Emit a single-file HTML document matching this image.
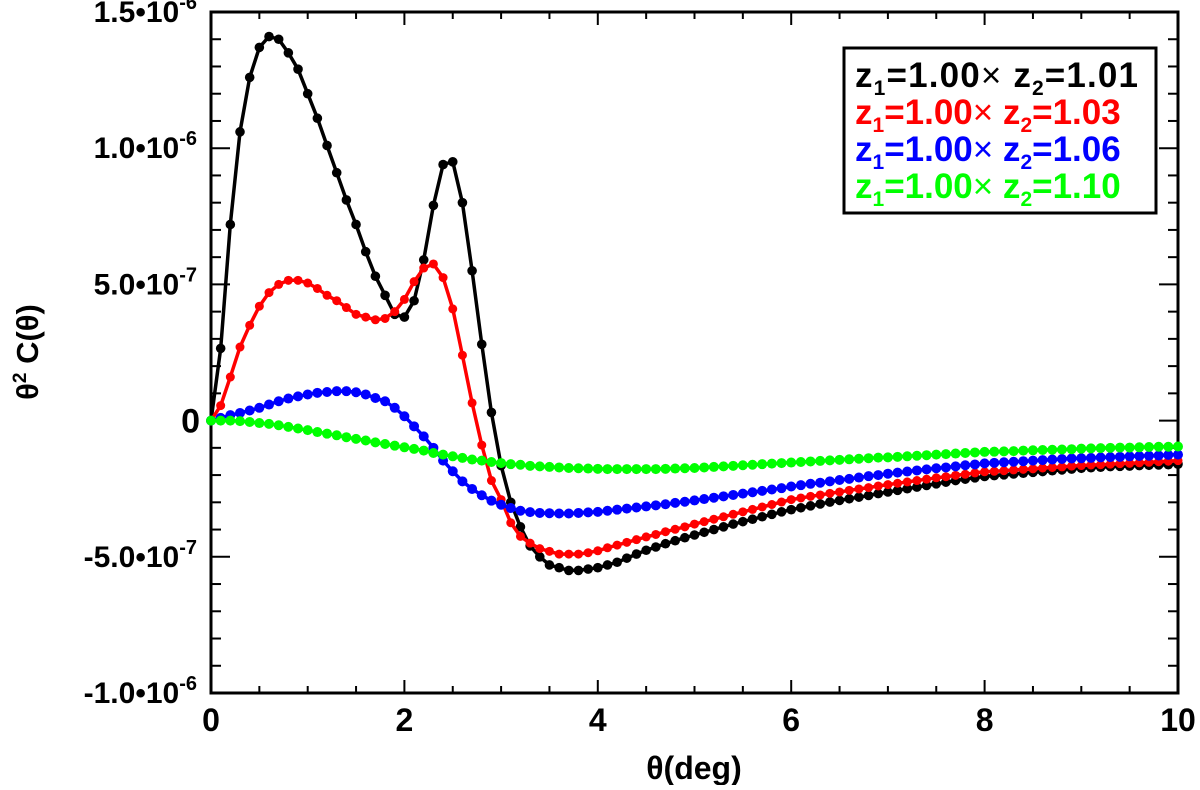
<!DOCTYPE html>
<html><head><meta charset="utf-8"><style>
body{margin:0;background:#fff;width:1200px;height:785px;overflow:hidden}
svg text{font-family:"Liberation Sans",Arial,sans-serif;font-weight:bold}
</style></head><body>
<svg id="chart" width="1200" height="785" viewBox="0 0 1200 785" xmlns="http://www.w3.org/2000/svg">
<g id="axes"></g>
<g id="series"></g>
<text x="694" y="779" font-size="32" text-anchor="middle">θ(deg)</text>
<text transform="translate(38,352) rotate(-90)" font-size="31" text-anchor="middle">θ<tspan font-size="19" dy="-12">2</tspan><tspan dy="12"> C(θ)</tspan></text>
<g>
<rect x="844" y="48" width="312" height="165" fill="#fff" stroke="#000" stroke-width="3"/>
<text x="855" y="87" font-size="35" fill="#000" textLength="283">z<tspan font-size="21" dy="8">1</tspan><tspan dy="-8">=1.00</tspan><tspan font-weight="normal">×</tspan> z<tspan font-size="21" dy="8">2</tspan><tspan dy="-8">=1.01</tspan></text>
<text x="855" y="124" font-size="35" fill="#ff0000">z<tspan font-size="21" dy="8">1</tspan><tspan dy="-8">=1.00</tspan><tspan font-weight="normal">×</tspan> z<tspan font-size="21" dy="8">2</tspan><tspan dy="-8">=1.03</tspan></text>
<text x="855" y="161" font-size="35" fill="#0000ff">z<tspan font-size="21" dy="8">1</tspan><tspan dy="-8">=1.00</tspan><tspan font-weight="normal">×</tspan> z<tspan font-size="21" dy="8">2</tspan><tspan dy="-8">=1.06</tspan></text>
<text x="855" y="198" font-size="35" fill="#00ff00">z<tspan font-size="21" dy="8">1</tspan><tspan dy="-8">=1.00</tspan><tspan font-weight="normal">×</tspan> z<tspan font-size="21" dy="8">2</tspan><tspan dy="-8">=1.10</tspan></text>
</g>
</svg>
<script>
// values in units of 1e-7, sampled every 0.1 deg from 0 to 10
const xStep = 0.1;
const blackVals = [0,2.65,7.2,10.6,12.6,13.7,14.1,14.0,13.5,12.9,12.0,11.1,10.1,9.1,8.1,7.2,6.2,5.3,4.6,3.9,3.8,4.4,5.9,7.9,9.4,9.5,8.0,5.5,2.8,0.3,-1.65,-3.0,-3.9,-4.6,-5.0,-5.3,-5.4,-5.5,-5.5,-5.45,-5.4,-5.3,-5.2,
-5.05,-4.9,-4.76,-4.64,-4.52,-4.41,-4.3,-4.2,
-4.1,-4.0,-3.9,-3.8,-3.71,-3.62,-3.53,-3.44,-3.35,-3.27,
-3.2,-3.13,-3.06,-2.99,-2.93,-2.87,-2.81,-2.75,-2.68,-2.62,
-2.56,-2.5,-2.44,-2.38,-2.32,-2.26,-2.2,-2.15,-2.1,-2.05,
-2.02,-1.99,-1.96,-1.93,-1.9,-1.87,-1.84,-1.81,-1.78,-1.75,
-1.73,-1.71,-1.69,-1.68,-1.67,-1.65,-1.64,-1.63,-1.62,-1.6];
const redVals = [0,0.55,1.6,2.7,3.5,4.2,4.7,5.0,5.15,5.15,5.05,4.85,4.6,4.4,4.15,3.9,3.8,3.7,3.75,4.0,4.45,5.1,5.6,5.75,5.25,4.1,2.4,0.65,-0.9,-2.2,-2.9,-3.75,-4.25,-4.5,-4.7,-4.8,-4.9,-4.9,-4.9,-4.85,-4.78,-4.67,-4.57,
-4.47,-4.37,-4.27,-4.18,-4.08,-3.99,-3.9,-3.8,
-3.71,-3.62,-3.53,-3.44,-3.35,-3.26,-3.17,-3.08,-2.99,-2.9,
-2.84,-2.78,-2.73,-2.67,-2.62,-2.56,-2.51,-2.46,-2.4,-2.35,
-2.3,-2.25,-2.2,-2.15,-2.1,-2.06,-2.01,-1.97,-1.92,-1.88,
-1.86,-1.84,-1.81,-1.79,-1.77,-1.74,-1.72,-1.7,-1.67,-1.65,
-1.63,-1.62,-1.6,-1.58,-1.57,-1.55,-1.53,-1.51,-1.49,-1.47];
const blueVals = [0,0.1,0.2,0.28,0.37,0.47,0.59,0.71,0.81,0.89,0.96,1.02,1.05,1.08,1.08,1.04,0.96,0.83,0.71,0.47,0.16,-0.21,-0.58,-1.0,-1.47,-1.86,-2.23,-2.51,-2.74,-2.94,-3.09,-3.21,-3.31,-3.36,-3.39,-3.4,-3.41,-3.41,-3.39,-3.37,-3.35,-3.31,-3.27,
-3.23,-3.19,-3.15,-3.11,-3.07,-3.02,-2.98,-2.93,
-2.88,-2.83,-2.78,-2.73,-2.68,-2.63,-2.58,-2.53,-2.48,-2.42,
-2.37,-2.32,-2.28,-2.23,-2.18,-2.14,-2.09,-2.04,-2.0,-1.95,
-1.91,-1.87,-1.83,-1.79,-1.75,-1.72,-1.68,-1.64,-1.61,-1.57,
-1.55,-1.53,-1.51,-1.49,-1.47,-1.45,-1.43,-1.41,-1.39,-1.38,
-1.37,-1.35,-1.34,-1.33,-1.31,-1.3,-1.29,-1.28,-1.26,-1.25];
const greenVals = [0,0,0,-0.02,-0.05,-0.09,-0.12,-0.17,-0.23,-0.29,-0.35,-0.42,-0.48,-0.54,-0.61,-0.67,-0.73,-0.8,-0.86,-0.92,-0.98,-1.04,-1.1,-1.19,-1.25,-1.31,-1.37,-1.43,-1.47,-1.52,-1.56,-1.6,-1.62,-1.66,-1.68,-1.7,-1.72,-1.74,-1.75,-1.76,-1.77,-1.78,-1.78,
-1.78,-1.78,-1.78,-1.78,-1.77,-1.76,-1.75,-1.74,
-1.72,-1.7,-1.68,-1.66,-1.64,-1.62,-1.6,-1.58,-1.56,-1.54,
-1.52,-1.5,-1.48,-1.46,-1.44,-1.42,-1.4,-1.38,-1.36,-1.35,
-1.33,-1.31,-1.29,-1.27,-1.25,-1.23,-1.21,-1.19,-1.17,-1.15,
-1.14,-1.13,-1.12,-1.1,-1.09,-1.08,-1.07,-1.06,-1.05,-1.03,
-1.02,-1.01,-1.0,-0.99,-0.99,-0.98,-0.97,-0.96,-0.96,-0.95];
const xTickVals = [0,2,4,6,8,10];
const xTickLabels = ["0","2","4","6","8","10"];
const yTickVals = [15,10,5,0,-5,-10];
const yTickMant = ["1.5","1.0","5.0","0","-5.0","-1.0"];
const yTickExp = ["-6","-6","-7","","-7","-6"];

const L=211,R=1178,T=12,B=693;
const xMin=0,xMax=10,yMin=-10,yMax=15;
function xs(v){return L+(v-xMin)/(xMax-xMin)*(R-L);}
function ys(v){return B-(v-yMin)/(yMax-yMin)*(B-T);}
const NS="http://www.w3.org/2000/svg";
function mk(tag,attrs,parent){const e=document.createElementNS(NS,tag);for(const k in attrs)e.setAttribute(k,attrs[k]);parent.appendChild(e);return e;}
const axes=document.getElementById('axes');
const frame=mk('rect',{x:L,y:T,width:R-L,height:B-T,fill:'none',stroke:'#000','stroke-width':3},axes);


for(let v=0;v<=10.001;v+=0.5){
  const major=Math.abs(v/2-Math.round(v/2))<1e-6;
  const len=major?13:7, x=xs(v);
  const t1=mk('line',{x1:x,x2:x,y1:B,y2:B-len,stroke:'#000','stroke-width':2},axes);
  
  
  const t2=mk('line',{x1:x,x2:x,y1:T,y2:T+len,stroke:'#000','stroke-width':2},axes);
  
  
}
xTickVals.forEach((v,i)=>{
  const t=mk('text',{x:xs(v),y:731,'font-size':32,'text-anchor':'middle'},axes);
  t.textContent=xTickLabels[i];
  
  
});
for(let v=-10;v<=15;v++){
  const major=v%5===0, len=major?19:10, y=ys(v);
  const t1=mk('line',{x1:L,x2:L+len,y1:y,y2:y,stroke:'#000','stroke-width':2},axes);
  
  
  const t2=mk('line',{x1:R,x2:R-len,y1:y,y2:y,stroke:'#000','stroke-width':2},axes);
  
  
}
yTickVals.forEach((v,i)=>{
  const y=ys(v);
  const t=mk('text',{x:197,y:y+10,'font-size':30,'text-anchor':'end'},axes);
  
  
  if(yTickExp[i]===''){t.setAttribute('y',y+12);t.setAttribute('font-size',34);t.setAttribute('x',200);t.textContent=yTickMant[i];}
  else{
    t.textContent=yTickMant[i]+'•10';
    const s=document.createElementNS(NS,'tspan');
    s.setAttribute('font-size','20');s.setAttribute('dy','-13');
    s.textContent=yTickExp[i];
    t.appendChild(s);
  }
});
const series=document.getElementById('series');
function draw(vals,color,name,r){
  const g=mk('g',{},series);
  
  
  const pts=vals.map((v,i)=>xs(i*xStep).toFixed(1)+','+ys(v).toFixed(1)).join(' ');
  const pl=mk('polyline',{points:pts,fill:'none',stroke:color,'stroke-width':3.5,'stroke-linejoin':'round'},g);
  
  
  vals.forEach((v,i)=>{
    const c=mk('circle',{cx:xs(i*xStep),cy:ys(v),r:r,fill:color},g);
    
    
  });
}
draw(blackVals,'#000000','series-z2-1.01',4.8);
draw(redVals,'#ff0000','series-z2-1.03',4.5);
draw(blueVals,'#0000ff','series-z2-1.06',5);
draw(greenVals,'#00ff00','series-z2-1.10',5);
</script>
</body></html>
